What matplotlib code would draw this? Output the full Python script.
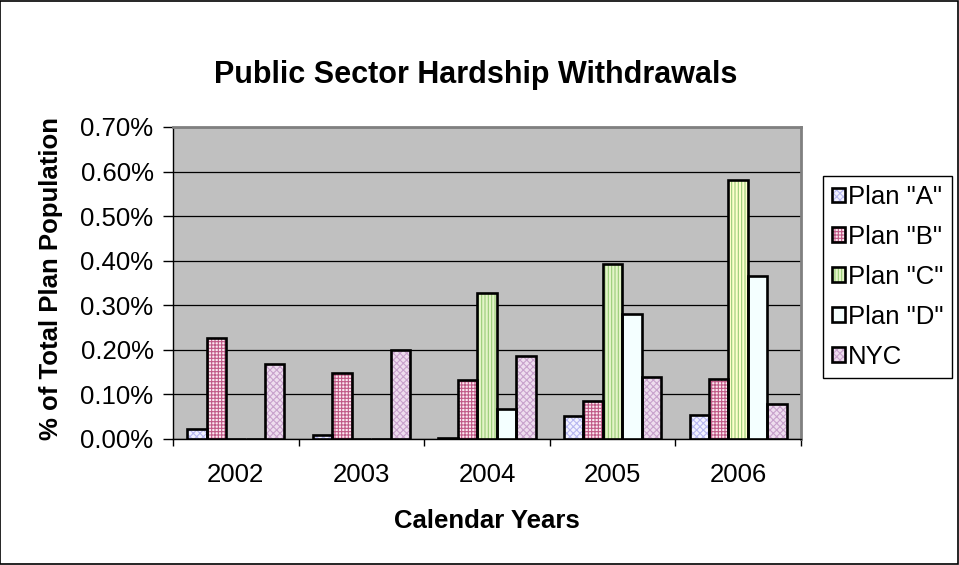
import matplotlib
matplotlib.use("Agg")
import matplotlib.pyplot as plt
import numpy as np
from matplotlib.patches import Rectangle

plt.rcParams["font.family"] = ["Liberation Sans", "DejaVu Sans"]
plt.rcParams["hatch.linewidth"] = 0.8

years = ["2002", "2003", "2004", "2005", "2006"]
series = ['Plan "A"', 'Plan "B"', 'Plan "C"', 'Plan "D"', "NYC"]
plan_a = [0.022, 0.010, 0.002, 0.052, 0.054]
plan_b = [0.226, 0.148, 0.132, 0.085, 0.135]
plan_c = [0.0, 0.0, 0.327, 0.392, 0.580]
plan_d = [0.0, 0.0, 0.067, 0.280, 0.365]
nyc = [0.168, 0.200, 0.186, 0.139, 0.078]
values = [plan_a, plan_b, plan_c, plan_d, nyc]

# (face, hatch, hatch colour)
styles = [
    ("#F2F2FF", "xxxxx", "#B8B8F0"),
    ("#FBE8F0", "+++++", "#C05A86"),
    ("#E4F4C8", "|||||", "#98CC78"),
    ("#F4FFFF", "", "#F4FFFF"),
    ("#EEDDEE", "xxxxx", "#C8A2CC"),
]
c_face_2006 = "#FFFFCC"

fig = plt.figure(figsize=(9.59, 5.65), dpi=100)
ax = fig.add_axes([173 / 959, 1 - 439 / 565, 628 / 959, 312 / 565])
ax.set_facecolor("#C0C0C0")

x = np.arange(len(years))
w = 0.155
handles = []
for i, (name, vals) in enumerate(zip(series, values)):
    face, hatch, hcol = styles[i]
    pos = x + (i - 2) * w
    faces = [face] * len(vals)
    if i == 2:
        faces[-1] = c_face_2006
    fill = ax.bar(pos, vals, w, color=faces, hatch=hatch, edgecolor=hcol, linewidth=0, zorder=3)
    edge = ax.bar(pos, vals, w, fill=False, edgecolor="black", linewidth=1.9, zorder=4)
    handles.append((fill[0], edge[0]))

ax.set_xlim(-0.5, 4.5)
ax.set_ylim(0, 0.70)
ax.set_yticks(np.arange(0, 0.71, 0.1))
ax.set_yticklabels([f"{v:.2f}%" for v in np.arange(0, 0.71, 0.1)], fontsize=18.5)
ax.yaxis.grid(True, color="black", linewidth=0.9, zorder=1)
ax.set_axisbelow(True)
ax.set_xticks(x)
ax.set_xticklabels(years, fontsize=18.5)
ax.set_xticks(np.arange(-0.5, 5, 1), minor=True)
ax.tick_params(axis="x", which="major", length=0, pad=17)
ax.tick_params(axis="x", which="minor", length=5, width=1, direction="out")
ax.tick_params(axis="y", length=7, width=1, pad=7)

for s in ["top", "right"]:
    ax.spines[s].set_color("#808080")
    ax.spines[s].set_linewidth(2)
for s in ["left", "bottom"]:
    ax.spines[s].set_color("black")
    ax.spines[s].set_linewidth(1)

fig.text(476 / 959, 1 - 75 / 565, "Public Sector Hardship Withdrawals", ha="center", va="center",
         fontsize=22, fontweight="bold")
fig.text(487 / 959, 1 - 521 / 565, "Calendar Years", ha="center", va="center",
         fontsize=18.5, fontweight="bold")
fig.text(51 / 959, 1 - 278 / 565, "% of Total Plan Population", ha="center", va="center",
         rotation=90, fontsize=18.5, fontweight="bold")

leg = fig.legend(handles, series, loc="upper left", bbox_to_anchor=(823 / 959, 1 - 176 / 565),
                 fontsize=18.5, frameon=True, fancybox=False, framealpha=1, edgecolor="black",
                 handlelength=0.5, handleheight=0.5, handletextpad=0.12, labelspacing=0.62,
                 borderpad=0.35, borderaxespad=0)
leg.get_frame().set_linewidth(1)

fig.patches.append(Rectangle((0.0005, 0.001), 0.998, 0.998, transform=fig.transFigure,
                             fill=False, edgecolor="black", linewidth=1.2))

fig.savefig("out.png", dpi=100)
